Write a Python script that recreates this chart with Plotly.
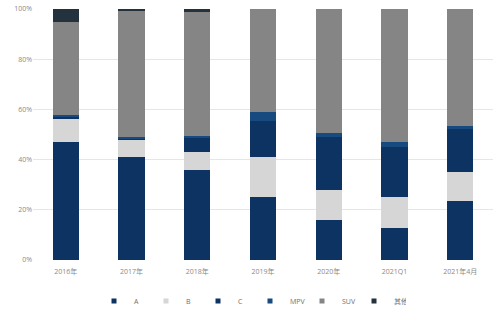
import plotly.graph_objects as go

categories = ["2016年", "2017年", "2018年", "2019年", "2020年", "2021Q1", "2021年4月"]
series_names = ["A", "B", "C", "MPV", "SUV", "其他"]
A = [47.0, 41.0, 36.0, 25.0, 16.0, 12.7, 23.6]
B = [9.5, 7.0, 7.0, 16.0, 12.0, 12.5, 11.4]
C = [0.7, 0.6, 6.0, 14.5, 21.0, 20.0, 17.0]
MPV = [0.6, 0.4, 0.3, 3.5, 1.5, 2.0, 1.5]
SUV = [37.2, 50.5, 49.7, 41.0, 49.5, 52.8, 46.5]
OTHER = [5.0, 0.5, 1.0, 0.0, 0.0, 0.0, 0.0]
colors = ["#0c3361", "#d6d6d6", "#0c3361", "#174a7e", "#858585", "#24323d"]

fig = go.Figure()
for name, vals, col in zip(series_names, [A, B, C, MPV, SUV, OTHER], colors):
    fig.add_trace(go.Bar(x=categories, y=[v / 100 for v in vals], name=name,
                         marker=dict(color=col, line=dict(width=0)), showlegend=False,
                         legendgroup=name))
# legend entries with small square symbols
for name, col in zip(series_names, colors):
    fig.add_trace(go.Scatter(x=[None], y=[None], mode="markers", name=name,
                             legendgroup=name,
                             marker=dict(symbol="square", size=5, color=col)))

font_family = "Open Sans, Noto Sans CJK SC, sans-serif"
fig.update_layout(
    barmode="stack",
    bargap=0.6,
    width=500, height=321,
    margin=dict(l=33, r=7, t=9, b=61, autoexpand=False),
    plot_bgcolor="white", paper_bgcolor="white",
    font=dict(family=font_family, size=7, color="#8a8a8a"),
    showlegend=True,
    legend=dict(orientation="h", x=0.5, xanchor="center", xref="container",
                y=1 - 301 / 321, yanchor="middle", yref="container",
                font=dict(size=7, color="#707070"), itemwidth=30, traceorder="normal",
                entrywidth=7, entrywidthmode="pixels", tracegroupgap=0),
    xaxis=dict(showgrid=False, showline=False, ticks="", ticklabelstandoff=6,
               automargin=False, tickfont=dict(size=7, color="#8a8a8a")),
    yaxis=dict(range=[0, 1], tickvals=[0, 0.2, 0.4, 0.6, 0.8, 1.0], tickformat=".0%",
               showgrid=True, gridcolor="#e6e6e6", gridwidth=1, zeroline=False,
               automargin=False,
               showline=False, ticks="", tickfont=dict(size=7, color="#8a8a8a")),
)

fig.write_html("out.html")
